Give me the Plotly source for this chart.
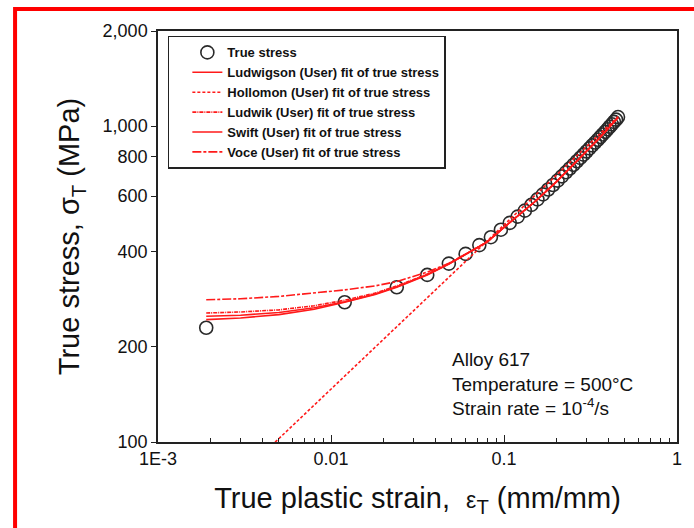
import plotly.graph_objects as go

# ---- data ----
true_strain = [0.0019, 0.012, 0.024, 0.036, 0.048, 0.060, 0.072, 0.084, 0.096, 0.108,
               0.120, 0.132, 0.144, 0.156, 0.168, 0.180, 0.192, 0.204, 0.216, 0.228,
               0.240, 0.252, 0.264, 0.276, 0.288, 0.300, 0.312, 0.324, 0.336, 0.348,
               0.360, 0.372, 0.384, 0.396, 0.408, 0.420, 0.432, 0.444, 0.456]
true_stress = [230, 277, 309, 338, 367, 394, 420, 445, 470, 494,
               517, 540, 563, 586, 608, 630, 651, 672, 693, 714,
               734, 754, 774, 793, 812, 831, 850, 869, 887, 905,
               923, 941, 959, 977, 995, 1013, 1031, 1048, 1068]

fit_strain = [0.0019, 0.003, 0.005, 0.008, 0.012, 0.018, 0.024, 0.036, 0.048, 0.06,
              0.08, 0.1, 0.15, 0.2, 0.25, 0.3, 0.35, 0.4, 0.456]
ludwigson = [244, 247, 253, 263, 277, 293, 309, 338, 366, 393, 430, 478, 575, 665, 751, 831, 908, 983, 1065]
hollomon = [62, 78.6, 102.6, 131, 162, 199.6, 232, 286, 332, 373, 433.5, 487, 601, 698, 784, 862, 934, 1001, 1071]
ludwik = [256, 258, 262, 270, 281, 296, 312, 340, 367, 394, 430, 478, 575, 665, 751, 831, 908, 983, 1065]
swift = [250, 252, 257, 266, 278, 294, 310, 339, 366, 393, 430, 478, 575, 665, 751, 831, 908, 983, 1065]
voce = [282, 284, 289, 296, 303, 312, 322, 345, 368, 393, 430, 478, 575, 665, 751, 831, 908, 983, 1065]

x_tickvals = [0.001, 0.01, 0.1, 1]
x_ticktext = ["1E-3", "0.01", "0.1", "1"]
y_tickvals = [100, 200, 400, 600, 800, 1000, 2000]
y_ticktext = ["100", "200", "400", "600", "800", "1,000", "2,000"]

RED = "#ff1a1a"
fig = go.Figure()
fig.add_trace(go.Scatter(x=true_strain, y=true_stress, mode="markers", name="True stress",
                         marker=dict(symbol="circle-open", size=13, color="#2a2a2a",
                                     line=dict(width=1.6, color="#2a2a2a"))))
fig.add_trace(go.Scatter(x=fit_strain, y=ludwigson, mode="lines",
                         name="Ludwigson (User) fit of true stress",
                         line=dict(color=RED, width=1.6)))
fig.add_trace(go.Scatter(x=fit_strain, y=hollomon, mode="lines",
                         name="Hollomon (User) fit of true stress",
                         line=dict(color=RED, width=1.6, dash="3px,2px")))
fig.add_trace(go.Scatter(x=fit_strain, y=ludwik, mode="lines",
                         name="Ludwik (User) fit of true stress",
                         line=dict(color=RED, width=1.6, dash="4px,1px,1px,1px")))
fig.add_trace(go.Scatter(x=fit_strain, y=swift, mode="lines",
                         name="Swift (User) fit of true stress",
                         line=dict(color=RED, width=1.6)))
fig.add_trace(go.Scatter(x=fit_strain, y=voce, mode="lines",
                         name="Voce (User) fit of true stress",
                         line=dict(color=RED, width=1.6, dash="9px,2px,3px,2px")))

fig.update_xaxes(type="log", range=[-3, 0], tickvals=x_tickvals, ticktext=x_ticktext,
                 ticks="inside", ticklen=7, tickwidth=1.4, tickcolor="#222",
                 minor=dict(tickvals=[m * 10 ** e for e in (-3, -2, -1) for m in range(2, 10)],
                            ticks="inside", ticklen=4, tickwidth=1.2, tickcolor="#222",
                            showgrid=False),
                 showline=True, linewidth=1.5, linecolor="#222", mirror=True,
                 showgrid=False, zeroline=False,
                 tickfont=dict(size=18, color="#111"),
                 title=dict(text="True plastic strain,  <span style='font-size:23px'>ε</span><sub>T</sub> (mm/mm)",
                            font=dict(size=29, color="#111"), standoff=19))
fig.update_yaxes(type="log", range=[2, 3.30103], tickvals=y_tickvals, ticktext=y_ticktext,
                 ticks="outside", ticklen=5, tickwidth=1.4, tickcolor="#222",
                 showline=True, linewidth=1.5, linecolor="#222", mirror=True,
                 showgrid=False, zeroline=False,
                 tickfont=dict(size=18, color="#111"),
                 title=dict(text="True stress, σ<sub>T</sub> (MPa)",
                            font=dict(size=29, color="#111"), standoff=14))

fig.add_annotation(xref="paper", yref="paper", x=0.563, y=0.141, xanchor="left", yanchor="middle",
                   align="left", showarrow=False,
                   text="Alloy 617<br>Temperature = 500°C<br>Strain rate = 10<sup>-4</sup>/s",
                   font=dict(size=19, color="#111"))

# red frame of the picture (top and left edges)
fig.add_shape(type="path", xref="paper", yref="paper",
              path="M -0.2754,-0.4 L -0.2754,1.0535 L 1.1,1.0535",
              line=dict(color="red", width=4), layer="above")

fig.update_layout(
    width=694, height=528,
    margin=dict(l=158, r=12, t=31, b=86),
    paper_bgcolor="white", plot_bgcolor="white",
    font=dict(family="Liberation Sans, Arial, sans-serif", color="#111"),
    showlegend=True,
    legend=dict(x=0.019, y=0.988, xanchor="left", yanchor="top",
                bgcolor="white", bordercolor="#222", borderwidth=1.5,
                font=dict(size=13, weight="bold"), indentation=18, traceorder="normal"),
)
fig.write_html("out.html")
